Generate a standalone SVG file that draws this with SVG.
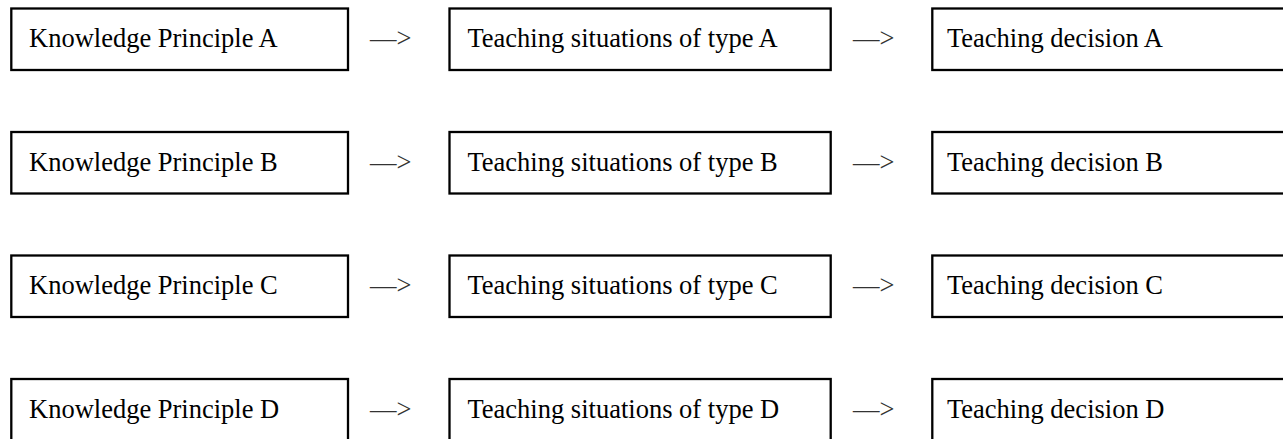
<svg xmlns="http://www.w3.org/2000/svg" width="1283" height="439" viewBox="0 0 1283 439">
<style>
.box{fill:#fff;stroke:#000;stroke-width:2.3}
.t{font-family:"Liberation Serif","Times New Roman",serif;font-size:26.5px;fill:#000}
.arr{font-family:"Liberation Serif","Times New Roman",serif;font-size:26.5px;fill:#333}
</style>
<rect width="1283" height="439" fill="#fff"/>
<g id="rowA" transform="translate(0,0)">
<g id="kpA"><rect class="box" x="11.3" y="8.5" width="336.7" height="61.5"/><text class="t" x="29" y="47">Knowledge Principle A</text></g>
<g id="tsA"><rect class="box" x="449.5" y="8.5" width="381.2" height="61.5"/><text class="t" x="467.5" y="47">Teaching situations of type A</text></g>
<g id="tdA"><rect class="box" x="932.3" y="8.5" width="360" height="61.5"/><text class="t" x="947" y="47">Teaching decision A</text></g>
</g>
<g id="rowB" transform="translate(0,123.5)">
<g id="kpB"><rect class="box" x="11.3" y="8.5" width="336.7" height="61.5"/><text class="t" x="29" y="47">Knowledge Principle B</text></g>
<g id="tsB"><rect class="box" x="449.5" y="8.5" width="381.2" height="61.5"/><text class="t" x="467.5" y="47">Teaching situations of type B</text></g>
<g id="tdB"><rect class="box" x="932.3" y="8.5" width="360" height="61.5"/><text class="t" x="947" y="47">Teaching decision B</text></g>
</g>
<g id="rowC" transform="translate(0,247)">
<g id="kpC"><rect class="box" x="11.3" y="8.5" width="336.7" height="61.5"/><text class="t" x="29" y="47">Knowledge Principle C</text></g>
<g id="tsC"><rect class="box" x="449.5" y="8.5" width="381.2" height="61.5"/><text class="t" x="467.5" y="47">Teaching situations of type C</text></g>
<g id="tdC"><rect class="box" x="932.3" y="8.5" width="360" height="61.5"/><text class="t" x="947" y="47">Teaching decision C</text></g>
</g>
<g id="rowD" transform="translate(0,370.5)">
<g id="kpD"><rect class="box" x="11.3" y="8.5" width="336.7" height="61.5"/><text class="t" x="29" y="47">Knowledge Principle D</text></g>
<g id="tsD"><rect class="box" x="449.5" y="8.5" width="381.2" height="61.5"/><text class="t" x="467.5" y="47">Teaching situations of type D</text></g>
<g id="tdD"><rect class="box" x="932.3" y="8.5" width="360" height="61.5"/><text class="t" x="947" y="47">Teaching decision D</text></g>
</g>
<g id="connectors">
<text class="arr" x="370" y="47">—&gt;</text>
<text class="arr" x="853" y="47">—&gt;</text>
<text class="arr" x="370" y="170.5">—&gt;</text>
<text class="arr" x="853" y="170.5">—&gt;</text>
<text class="arr" x="370" y="294">—&gt;</text>
<text class="arr" x="853" y="294">—&gt;</text>
<text class="arr" x="370" y="417.5">—&gt;</text>
<text class="arr" x="853" y="417.5">—&gt;</text>
</g>
</svg>
